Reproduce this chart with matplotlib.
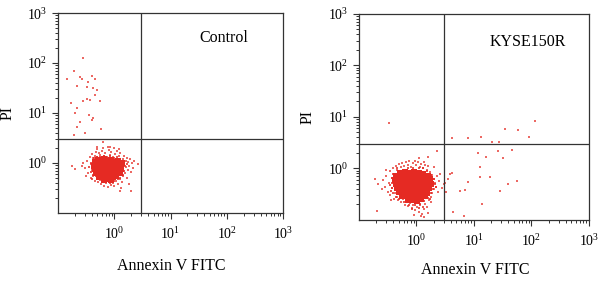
"""
Annexin V / PI flow cytometry dot plots: Control vs KYSE150R
"""
import numpy as np
import matplotlib
matplotlib.use("Agg")
import matplotlib.pyplot as plt
from matplotlib.ticker import LogLocator, NullFormatter

plt.rcParams['font.family'] = ['Liberation Serif', 'DejaVu Serif']
plt.rcParams['mathtext.fontset'] = 'stix'

# data, log10 units
# Control: dense core of cells
ctrl_core_x = [-0.34, -0.29, -0.24, -0.18, -0.12, -0.06, 0.01, 0.07,
               -0.36, -0.31, -0.26, -0.21, -0.15, -0.10, -0.04, 0.02, 0.09, 0.14,
               -0.35, -0.28, -0.23, -0.17, -0.11, -0.05, 0.00, 0.06, 0.12,
               -0.32, -0.26, -0.20, -0.14, -0.08, -0.02, 0.04, 0.10,
               -0.27, -0.21, -0.15, -0.09, -0.03, 0.03,
               -0.18, -0.11, -0.05]
ctrl_core_y = [0.02, 0.07, 0.04, 0.08, 0.05, 0.06, 0.03, 0.05,
               -0.05, -0.02, -0.06, -0.01, -0.04, 0.00, -0.03, -0.02, -0.04, 0.00,
               -0.12, -0.10, -0.14, -0.09, -0.12, -0.09, -0.13, -0.10, -0.12,
               -0.19, -0.21, -0.17, -0.20, -0.18, -0.21, -0.17, -0.20,
               -0.27, -0.25, -0.28, -0.26, -0.28, -0.25,
               -0.33, -0.32, -0.34]
# Control: cells at the edge of the core
ctrl_mid_x = [-0.42, -0.40, -0.41, -0.38, -0.36, -0.31, -0.25, -0.19, -0.13, -0.07,
              -0.01, 0.05, 0.11, 0.17, 0.19, 0.18, 0.16, 0.10, 0.06, 0.00,
              -0.08, -0.14, -0.22, -0.30, -0.33, -0.24, 0.13, -0.39, 0.22, -0.45]
ctrl_mid_y = [0.00, -0.08, -0.17, -0.24, 0.10, 0.13, 0.12, 0.15, 0.11, 0.14,
              0.10, 0.12, 0.08, 0.04, -0.06, -0.15, -0.24, -0.29, -0.32, -0.36,
              -0.39, -0.38, -0.36, -0.31, -0.26, 0.09, -0.18, -0.31, -0.02, -0.08]
# Control: scattered cells
ctrl_x = [-0.52, -0.48, -0.46, -0.44, -0.42, -0.41, -0.40, -0.39, -0.38, -0.37,
          -0.35, -0.34, -0.33, -0.31, -0.30, -0.29, -0.28, -0.26, -0.25, -0.24,
          -0.22, -0.21, -0.19, -0.18, -0.16, -0.14, -0.13, -0.12, -0.10, -0.09,
          -0.08, -0.06, -0.05, -0.03, -0.02, 0.00, 0.01, 0.03, 0.05, 0.06,
          0.08, 0.10, 0.11, 0.13, 0.15, 0.16, 0.18, 0.19, 0.20, 0.21,
          0.22, 0.24, 0.25, 0.27, 0.28, 0.30, 0.32, 0.33, 0.35, 0.22,
          -0.58, -0.55, -0.50, 0.26, 0.12, -0.30, -0.20, -0.12, 0.00, 0.08,
          -0.75, -0.70, 0.42, 0.30, 0.10,
          -0.55, -0.71, -0.84, -0.61, -0.57, -0.46, -0.39, -0.34, -0.66, -0.48,
          -0.37, -0.30, -0.34, -0.25, -0.55, -0.48, -0.43, -0.77, -0.66, -0.70,
          -0.45, -0.37, -0.61, -0.66, -0.39, -0.23, -0.71, -0.52, -0.20, -0.07,
          -0.30]
ctrl_y = [-0.10, 0.05, -0.20, 0.12, -0.30, -0.02, 0.18, -0.14, 0.10, -0.25,
          0.15, -0.35, 0.22, -0.29, 0.13, -0.38, 0.20, -0.33, 0.16, -0.42,
          0.24, -0.37, 0.14, -0.45, 0.21, -0.40, 0.12, -0.47, 0.27, -0.38,
          0.16, -0.43, 0.22, -0.39, 0.12, -0.46, 0.19, -0.35, 0.25, -0.41,
          0.14, -0.31, 0.20, -0.37, 0.09, -0.26, 0.15, -0.19, 0.04, -0.08,
          0.11, -0.14, 0.02, -0.05, 0.08, -0.18, 0.00, -0.10, 0.05, -0.30,
          -0.05, 0.00, -0.25, -0.42, -0.50, 0.28, 0.30, 0.33, 0.30, 0.28,
          -0.05, -0.12, -0.02, -0.55, -0.56,
          2.10, 1.84, 1.68, 1.72, 1.68, 1.62, 1.74, 1.68, 1.54, 1.52,
          1.50, 1.46, 1.36, 1.24, 1.24, 1.28, 1.26, 1.20, 1.10, 1.00,
          0.96, 0.90, 0.82, 0.72, 0.86, 0.68, 0.56, 0.60, 0.42, 0.32,
          0.32]

# KYSE150R: dense core of cells
kyse_core_x = [-0.28, -0.20, -0.12, -0.04, 0.04, 0.12,
               -0.35, -0.27, -0.19, -0.11, -0.03, 0.05, 0.13, 0.20,
               -0.37, -0.30, -0.22, -0.14, -0.06, 0.02, 0.10, 0.18, 0.24,
               -0.36, -0.28, -0.20, -0.12, -0.04, 0.04, 0.12, 0.20, 0.26,
               -0.34, -0.26, -0.18, -0.10, -0.02, 0.06, 0.14, 0.22,
               -0.30, -0.22, -0.14, -0.06, 0.02, 0.10, 0.18,
               -0.24, -0.16, -0.08, 0.00, 0.08, 0.15,
               -0.14, -0.06, 0.02, 0.09]
kyse_core_y = [-0.08, -0.06, -0.09, -0.07, -0.08, -0.10,
               -0.15, -0.13, -0.16, -0.14, -0.15, -0.13, -0.16, -0.15,
               -0.22, -0.23, -0.21, -0.22, -0.24, -0.21, -0.22, -0.23, -0.21,
               -0.30, -0.31, -0.29, -0.30, -0.32, -0.30, -0.29, -0.31, -0.30,
               -0.38, -0.37, -0.39, -0.38, -0.36, -0.38, -0.39, -0.37,
               -0.46, -0.45, -0.47, -0.46, -0.44, -0.46, -0.47,
               -0.54, -0.53, -0.55, -0.54, -0.52, -0.54,
               -0.62, -0.61, -0.63, -0.60]
# KYSE150R: cells at the edge of the core
kyse_mid_x = [-0.42, -0.43, -0.42, -0.40, -0.36, -0.30, -0.22, -0.12, -0.02, 0.06,
              0.14, 0.20, 0.26, 0.29, 0.32, 0.30, 0.26, 0.19, 0.12, 0.04,
              -0.05, -0.14, -0.22, -0.30, -0.36, -0.40, -0.46, 0.35, 0.05, -0.08,
              0.12, 0.24, -0.44, -0.33]
kyse_mid_y = [-0.18, -0.28, -0.38, -0.47, -0.55, -0.60, -0.66, -0.70, -0.71, -0.68,
              -0.64, -0.57, -0.48, -0.40, -0.30, -0.20, -0.12, -0.05, 0.00, 0.01,
              0.00, 0.00, -0.02, -0.06, -0.10, -0.10, -0.33, -0.36, -0.77, -0.78,
              -0.74, -0.60, -0.44, 0.00]
# KYSE150R: scattered cells
kyse_x = [-0.58, -0.55, -0.52, -0.50, -0.48, -0.46, -0.45, -0.43, -0.42, -0.40,
          -0.39, -0.38, -0.37, -0.35, -0.34, -0.33, -0.31, -0.30, -0.29, -0.27,
          -0.26, -0.24, -0.23, -0.21, -0.20, -0.18, -0.17, -0.15, -0.14, -0.12,
          -0.11, -0.09, -0.08, -0.06, -0.05, -0.03, -0.02, 0.00, 0.01, 0.03,
          0.04, 0.06, 0.07, 0.09, 0.10, 0.12, 0.13, 0.15, 0.16, 0.18,
          0.19, 0.21, 0.22, 0.24, 0.25, 0.27, 0.28, 0.30, 0.31, 0.33,
          0.34, 0.36, 0.38, 0.40, 0.42, 0.44, 0.30, 0.26, -0.44, -0.52,
          -0.60, -0.66, 0.08, 0.14, -0.04, 0.20,
          -0.72, -0.69, -0.48, 0.13, 0.20, 0.36, 0.05,
          0.50, 0.55, 0.52, 0.58,
          0.62, 0.90, 1.12, 1.31, 1.43, 1.55, 1.77, 1.96, 2.06,
          1.07, 1.22, 1.42, 1.50, 1.66, 1.10, 0.62, 0.90, 1.10, 1.28,
          1.75, 1.59, 0.76, 0.84, 1.45, 1.14, 0.64, 0.83, 0.48]
kyse_y = [-0.22, -0.35, -0.15, -0.45, -0.28, -0.05, -0.52, -0.18, -0.38, 0.00,
          -0.60, -0.10, -0.48, 0.05, -0.55, -0.02, -0.62, 0.08, -0.56, 0.02,
          -0.66, 0.10, -0.60, 0.04, -0.70, 0.12, -0.63, 0.06, -0.72, 0.14,
          -0.67, 0.03, -0.76, 0.10, -0.70, 0.15, -0.80, 0.06, -0.74, 0.12,
          -0.84, 0.02, -0.70, 0.09, -0.88, 0.00, -0.78, 0.07, -0.68, -0.02,
          -0.74, 0.04, -0.62, -0.06, -0.55, -0.12, -0.48, -0.20, -0.40, -0.28,
          -0.35, -0.15, -0.45, -0.25, -0.10, -0.38, 0.02, -0.66, -0.62, -0.02,
          -0.40, -0.30, -0.92, -0.95, -0.90, -0.86,
          -0.21, -0.83, 0.89, 0.12, 0.23, 0.33, 0.20,
          -0.28, -0.20, -0.45, -0.10,
          0.60, 0.60, 0.62, 0.52, 0.52, 0.76, 0.74, 0.62, 0.93,
          0.31, 0.23, 0.33, 0.21, 0.35, 0.02, -0.08, -0.27, -0.17, -0.17,
          -0.25, -0.31, -0.44, -0.42, -0.44, -0.69, -0.85, -0.93, -0.31]

panels = [
    ("Control", ctrl_core_x, ctrl_core_y, ctrl_mid_x, ctrl_mid_y, ctrl_x, ctrl_y),
    ("KYSE150R", kyse_core_x, kyse_core_y, kyse_mid_x, kyse_mid_y, kyse_x, kyse_y),
]
boxes = [[0.0967, 0.2447, 0.375, 0.709], [0.598, 0.2199, 0.3833, 0.7305]]
text_pos = [(0.627, 0.875), (0.57, 0.864)]
xlab_y = [-0.225, -0.204]
core_size = [18, 16]

red = '#e52a23'
edge = '#333333'

fig = plt.figure(figsize=(6.0, 2.82), dpi=100)
for i, (name, cx, cy, mx, my, sx, sy) in enumerate(panels):
    ax = fig.add_axes(boxes[i])
    ax.set_xscale('log')
    ax.set_yscale('log')
    ax.scatter(10 ** np.array(sx), 10 ** np.array(sy), s=1.1, marker='s',
               color=red, linewidths=0, alpha=0.7)
    ax.scatter(10 ** np.array(mx), 10 ** np.array(my), s=3.5, marker='s',
               color=red, linewidths=0, alpha=0.8)
    ax.scatter(10 ** np.array(cx), 10 ** np.array(cy), s=core_size[i], marker='s',
               color=red, linewidths=0)
    ax.set_xlim(0.1, 1000)
    ax.set_ylim(0.1, 1000)
    ax.axvline(3.0, color=edge, lw=0.9)
    ax.axhline(3.0, color=edge, lw=0.9)
    for sp in ax.spines.values():
        sp.set_color(edge)
        sp.set_linewidth(0.9)
    for axis in (ax.xaxis, ax.yaxis):
        axis.set_major_locator(LogLocator(base=10, numticks=10))
        axis.set_minor_locator(LogLocator(base=10, subs=np.arange(2, 10), numticks=10))
        axis.set_minor_formatter(NullFormatter())
    ax.set_xticks([1, 10, 100, 1000])
    ax.set_yticks([1, 10, 100, 1000])
    ax.tick_params(which='major', length=4.5, width=0.8, color=edge,
                   labelsize=10, direction='out', pad=5)
    ax.tick_params(which='minor', length=2.5, width=0.7, color=edge, direction='out')
    ax.tick_params(axis='y', pad=3)
    ax.set_xlabel('Annexin V FITC', fontsize=11.5)
    ax.xaxis.set_label_coords(0.505, xlab_y[i])
    ax.set_ylabel('PI', fontsize=11.5)
    ax.yaxis.set_label_coords(-0.19, 0.5)
    ax.text(text_pos[i][0], text_pos[i][1], name, transform=ax.transAxes,
            fontsize=11.5, va='center', ha='left')

fig.savefig('out.png', dpi=100)
